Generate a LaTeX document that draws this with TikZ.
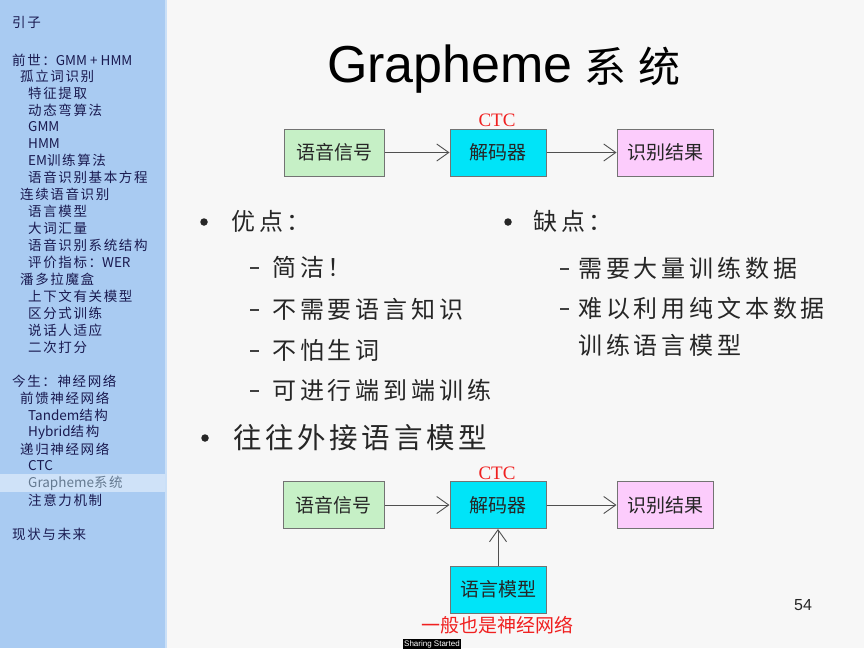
\documentclass[tikz,border=0pt]{standalone}
\usepackage{fontspec}
\setmainfont{Liberation Sans}
\newfontfamily\cjk{Noto Sans CJK SC}
\newfontfamily\cjkside[LetterSpace=12]{Noto Sans CJK SC}
\newfontfamily\cjkbody[LetterSpace=16]{Noto Sans CJK SC}
\newfontfamily\cjkbig[LetterSpace=13]{Noto Sans CJK SC}
\newfontfamily\cjkbox{Noto Sans CJK SC}
\newfontfamily\serifred{Liberation Serif}
\newcommand{\lat}[1]{{\cjk #1}}
\usetikzlibrary{arrows.meta}
\definecolor{sidebg}{HTML}{A9CBF2}
\definecolor{sidehl}{HTML}{CFE2F8}
\definecolor{sidetxt}{HTML}{1A1A50}
\definecolor{boxgreen}{HTML}{C6F0C6}
\definecolor{boxcyan}{HTML}{00E4F8}
\definecolor{boxpink}{HTML}{FCCCFC}
\definecolor{ctcred}{HTML}{F02020}
\definecolor{linegray}{HTML}{505050}
\tikzset{
  sideitem/.style={anchor=west, inner sep=0pt, text=sidetxt, font=\cjkside\fontsize{13.5}{14}\selectfont},
  diagbox/.style={draw=gray!90!black, line width=1pt, minimum height=47pt, inner sep=0pt, font=\cjkbox\fontsize{19}{20}\selectfont, text=black!85},
  flow/.style={draw=linegray, line width=0.9pt, -{Straight Barb[length=12pt,width=17pt,line width=0.9pt]}},
  redlabel/.style={text=ctcred, inner sep=0pt, font=\serifred\fontsize{19}{20}\selectfont},
  bulletmain/.style={anchor=west, inner sep=0pt, font=\cjkbody\fontsize{24}{26}\selectfont, text=black!85},
  bulletsub/.style={anchor=west, inner sep=0pt, font=\cjkbody\fontsize{24}{26}\selectfont, text=black!85},
  dot/.style={circle, fill=black!85, inner sep=0pt, minimum size=7.5pt},
  dashline/.style={draw=black!75, line width=1.4pt}
}
\begin{document}
\begin{tikzpicture}[x=1pt,y=-1pt]
\useasboundingbox (0,0) rectangle (864,648);
\fill[white!97!black] (0,0) rectangle (864,648);
% sidebar
\fill[sidebg] (0,0) rectangle (165,648);
\fill[sidebg!60!white] (165,0) rectangle (167,648);
\fill[sidehl] (0,474) rectangle (165,492);
\foreach \x/\y/\t in {
  12/22/{引子},
  12/60/{前世：\lat{GMM + HMM}},
  20/76/{孤立词识别},
  28/93/{特征提取},
  28/110/{动态弯算法},
  28/127/{\lat{GMM}},
  28/144/{\lat{HMM}},
  28/160/{\lat{EM}训练算法},
  28/177/{语音识别基本方程},
  20/194/{连续语音识别},
  28/211/{语言模型},
  28/228/{大词汇量},
  28/245/{语音识别系统结构},
  28/262/{评价指标：\lat{WER}},
  20/279/{潘多拉魔盒},
  28/296/{上下文有关模型},
  28/313/{区分式训练},
  28/330/{说话人适应},
  28/347/{二次打分},
  12/381/{今生：神经网络},
  20/398/{前馈神经网络},
  28/415/{\lat{Tandem}结构},
  28/432/{\lat{Hybrid}结构},
  20/449/{递归神经网络},
  28/466/{\lat{CTC}},
  28/500/{注意力机制},
  12/534/{现状与未来}}
{ \node[sideitem] (side-\y) at (\x,\y) {\t}; }
\node[sideitem, text=black!40!sidebg] (side-hl) at (28,483) {\lat{Grapheme}系统};
% title
\node[anchor=base west, inner sep=0pt] (title) at (327,82)
  {{\fontsize{52}{52}\selectfont Grapheme}\hspace{12pt}{\cjk\fontsize{42}{44}\selectfont 系\hspace{12pt}统}};
% top diagram
\node[diagbox, fill=boxgreen, minimum width=100pt] (sig1) at (334,152.5) {语音信号};
\node[diagbox, fill=boxcyan, minimum width=96pt] (dec1) at (498,152.5) {解码器};
\node[diagbox, fill=boxpink, minimum width=96pt] (res1) at (665,152.5) {识别结果};
\node[redlabel, anchor=south] (ctc1) at (497,127) {CTC};
\draw[flow] (sig1) -- (dec1);
\draw[flow] (dec1) -- (res1);
% bullets (left)
\node[dot] (b1) at (204,222) {};
\node[bulletmain] (adv) at (231,221) {优点：};
\draw[dashline] (250,268) -- (259,268);
\node[bulletsub] (a1) at (272,267) {简洁！};
\draw[dashline] (250,310) -- (259,310);
\node[bulletsub] (a2) at (272,309) {不需要语言知识};
\draw[dashline] (250,351) -- (259,351);
\node[bulletsub] (a3) at (272,350) {不怕生词};
\draw[dashline] (250,391) -- (259,391);
\node[bulletsub] (a4) at (272,390) {可进行端到端训练};
% bullets (right)
\node[dot] (b2) at (508,222) {};
\node[bulletmain] (dis) at (533,221) {缺点：};
\draw[dashline] (560,269) -- (569,269);
\node[bulletsub] (c1) at (578,268) {需要大量训练数据};
\draw[dashline] (560,309) -- (569,309);
\node[bulletsub] (c2) at (578,308) {难以利用纯文本数据};
\node[bulletsub] (c3) at (578,345) {训练语言模型};
% external LM bullet
\node[dot] (b3) at (205,438) {};
\node[bulletmain, font=\cjkbig\fontsize{28.5}{30}\selectfont] (ext) at (233,438) {往往外接语言模型};
% bottom diagram
\node[diagbox, fill=boxgreen, minimum width=101pt] (sig2) at (333.5,505) {语音信号};
\node[diagbox, fill=boxcyan, minimum width=96pt] (dec2) at (498,505) {解码器};
\node[diagbox, fill=boxpink, minimum width=96pt] (res2) at (665,505) {识别结果};
\node[diagbox, fill=boxcyan, minimum width=96pt] (lm) at (498,589.5) {语言模型};
\node[redlabel, anchor=south] (ctc2) at (497,480) {CTC};
\node[text=ctcred, inner sep=0pt, font=\cjk\fontsize{19}{20}\selectfont] (note) at (497,625) {一般也是神经网络};
\draw[flow] (sig2) -- (dec2);
\draw[flow] (dec2) -- (res2);
\draw[flow] (lm) -- (dec2);
% page number
\node[inner sep=0pt, font=\fontsize{16}{16}\selectfont, text=black!85] (page) at (803,605) {54};
% screen-sharing tag
\node[fill=black, text=white, inner sep=1pt, font=\fontsize{8}{8}\selectfont, anchor=north west] (share) at (403,639) {Sharing Started};
\end{tikzpicture}
\end{document}
